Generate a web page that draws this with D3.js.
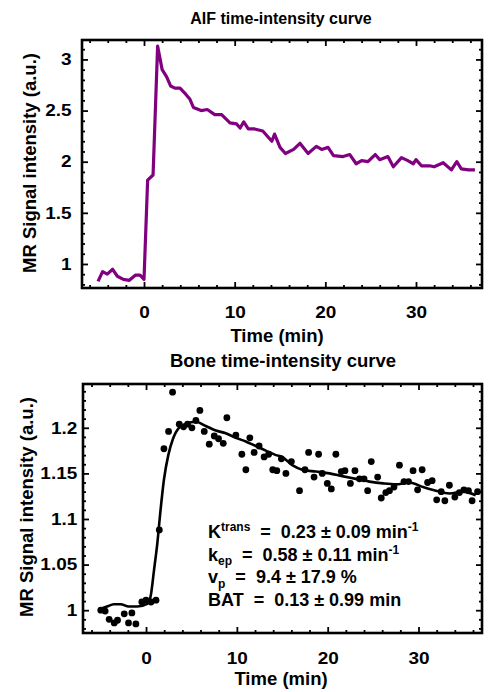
<!DOCTYPE html>
<html>
<head>
<meta charset="utf-8">
<script src="https://cdn.jsdelivr.net/npm/d3@7"></script>
<style>
body { margin: 0; background: #fff; }
svg { display: block; }
text { font-family: "Liberation Sans", Arial, Helvetica, sans-serif; font-weight: bold; fill: #000; }
</style>
</head>
<body>
<svg id="chart" width="490" height="692"></svg>
<script>
/* AIF curve */
var aifTime = [-5.07, -4.57, -4.05, -3.46, -2.94, -2.28, -1.62, -0.96, -0.44, 0, 0.4, 1.0, 1.5, 2.0, 2.5, 2.94, 3.4, 3.97, 4.6, 5.07,
	5.45, 6.3, 6.98, 7.8, 8.56, 9.48, 10.2, 10.6, 11.0, 11.5, 12.2, 13.1, 14.1, 14.4, 15.0, 15.6, 16.5, 17.2, 18.1, 19.0,
	19.6, 20.3, 20.9, 21.96, 22.7, 23.4, 24.0, 24.7, 25.5, 26.0, 26.9, 27.5, 28.4, 29.1, 29.7, 30.0, 30.6, 31.5, 32.0, 33.0,
	33.9, 34.5, 35.0, 35.8, 36.5];
var aifSignal = [0.83, 0.925, 0.90, 0.948, 0.88, 0.85, 0.84, 0.89, 0.89, 0.85, 1.82, 1.87, 3.13, 2.90, 2.83, 2.74, 2.72, 2.72, 2.66, 2.61,
	2.53, 2.50, 2.51, 2.46, 2.46, 2.38, 2.37, 2.33, 2.39, 2.32, 2.32, 2.30, 2.20, 2.27, 2.14, 2.08, 2.12, 2.18, 2.08, 2.15,
	2.12, 2.14, 2.06, 2.05, 2.07, 1.98, 2.01, 2.00, 2.07, 2.02, 2.05, 1.95, 2.04, 2.01, 1.98, 2.02, 1.96, 1.96, 1.95, 1.99,
	1.92, 2.00, 1.93, 1.92, 1.92];

/* bone samples (dots) */
var boneTime = [-4.98, -4.5, -4.06, -3.5, -3.14, -2.4, -1.93, -1.56, -1.12, -0.46, 0, 0.55, 1.1, 1.46, 1.97, 2.48, 2.92, 3.66, 4.13, 4.57,
	5.05, 5.49, 5.93, 6.41, 6.96, 7.51, 7.98, 8.5, 8.9, 9.89, 10.55, 10.99, 11.43, 11.9, 12.45, 13.0, 13.5, 13.95, 14.4, 14.9,
	15.4, 16.0, 16.9, 17.5, 17.9, 18.5, 19.0, 19.4, 19.96, 20.4, 20.9, 21.5, 21.9, 22.5, 23.0, 23.5, 24.0, 24.4, 24.8, 25.5,
	25.9, 26.4, 26.8, 27.3, 27.9, 28.4, 28.9, 29.4, 29.9, 30.4, 31.0, 31.5, 32.0, 32.5, 32.9, 33.4, 34.0, 34.5, 35.0, 35.5,
	35.9, 36.5];
var boneSignal = [1.000, 0.999, 0.990, 0.986, 0.989, 0.996, 0.986, 0.997, 0.985, 1.009, 1.011, 1.009, 1.011, 1.088, 1.177, 1.196, 1.239, 1.204, 1.201, 1.204,
	1.200, 1.208, 1.219, 1.196, 1.182, 1.191, 1.188, 1.183, 1.211, 1.192, 1.171, 1.154, 1.189, 1.173, 1.180, 1.168, 1.171, 1.154, 1.153, 1.166,
	1.150, 1.163, 1.131, 1.154, 1.173, 1.146, 1.171, 1.150, 1.139, 1.133, 1.171, 1.152, 1.153, 1.139, 1.153, 1.144, 1.144, 1.131, 1.163, 1.146,
	1.123, 1.129, 1.131, 1.135, 1.159, 1.141, 1.141, 1.153, 1.132, 1.154, 1.140, 1.142, 1.121, 1.130, 1.120, 1.137, 1.124, 1.129, 1.132, 1.131,
	1.120, 1.130];

/* model fit through the bone samples */
var fitTime = [-5.2, -4.3, -3.55, -2.8, -1.9, -0.97, 0.13, 0.5, 0.88, 1.24, 1.6, 1.97, 2.45, 2.97, 3.63, 4.37, 5.47, 6.57, 7.68, 8.78,
	9.88, 10.98, 12.08, 13.19, 14.3, 15.0, 16.1, 17.2, 18.7, 20.2, 21.6, 23.1, 24.6, 26.1, 27.5, 29.0, 30.5, 31.9, 33.4, 34.9, 36.3];
var fitSignal = [1.001, 1.004, 1.0066, 1.0066, 1.004, 1.004, 1.007, 1.015, 1.044, 1.073, 1.110, 1.143, 1.170, 1.188, 1.200, 1.204, 1.2066, 1.202, 1.197, 1.194,
	1.189, 1.185, 1.180, 1.175, 1.170, 1.168, 1.159, 1.154, 1.152, 1.150, 1.147, 1.144, 1.141, 1.139, 1.138, 1.140, 1.135, 1.131, 1.128, 1.130, 1.126];

var xTicks = [0, 10, 20, 30];
var aifYTicks = [1, 1.5, 2, 2.5, 3];
var boneYTicks = [1, 1.05, 1.1, 1.15, 1.2];

var params = [
	{ main: "K", sup: "trans", rest: "  =  0.23 \u00b1 0.09 min", tail: "-1" },
	{ main: "k", sub: "ep", rest: "  =  0.58 \u00b1 0.11 min", tail: "-1" },
	{ main: "v", sub: "p", rest: "  =  9.4 \u00b1 17.9 %" },
	{ main: "BAT", rest: "  =  0.13 \u00b1 0.99 min" }
];

var svg = d3.select("#chart");

/* one framed panel with inward ticks on all four sides */
function drawPanel(p) {
	var x = d3.scaleLinear().domain(p.xDomain).range([p.left, p.right]);
	var y = d3.scaleLinear().domain(p.yDomain).range([p.bottom, p.top]);
	var g = svg.append("g");

	var xMinor = d3.range(-6, 37, 2).filter(function(d) { return xTicks.indexOf(d) < 0; });
	var yMinor = p.yMinor.filter(function(d) { return p.yTicks.every(function(t) { return Math.abs(t - d) > 1e-6; }); });

	function ticks(axisFn, scale, vals, size, tx, ty, labels, pad) {
		var a = axisFn(scale).tickValues(vals).tickSizeInner(-size).tickSizeOuter(0).tickPadding(pad || 0);
		if (!labels) a.tickFormat("");
		else a.tickFormat(function(d) { return String(d); });
		var ax = g.append("g").attr("transform", "translate(" + tx + "," + ty + ")").call(a);
		ax.select(".domain").remove();
		ax.selectAll("line").attr("stroke", "#000").attr("stroke-width", 1.8);
		ax.selectAll("text").attr("font-size", 16.5).attr("font-family", null)
			.attr("transform", "scale(1.15,1)");
		return ax;
	}

	ticks(d3.axisBottom, x, xTicks, 6, 0, p.bottom, true, p.xPad);
	ticks(d3.axisBottom, x, xMinor, 3, 0, p.bottom);
	ticks(d3.axisTop, x, xTicks, 6, 0, p.top);
	ticks(d3.axisTop, x, xMinor, 3, 0, p.top);
	ticks(d3.axisLeft, y, p.yTicks, 6, p.left, 0, true, p.yPad);
	ticks(d3.axisLeft, y, yMinor, 3, p.left, 0);
	ticks(d3.axisRight, y, p.yTicks, 6, p.right, 0);
	ticks(d3.axisRight, y, yMinor, 3, p.right, 0);

	g.append("rect")
		.attr("x", p.left).attr("y", p.top)
		.attr("width", p.right - p.left).attr("height", p.bottom - p.top)
		.attr("fill", "none").attr("stroke", "#000").attr("stroke-width", 2.6);

	g.append("text").text(p.title)
		.attr("x", p.titleX).attr("y", p.titleY)
		.attr("text-anchor", "middle").attr("font-size", p.titleSize);

	g.append("text").text("Time (min)")
		.attr("x", p.xLabelX).attr("y", p.xLabelY)
		.attr("text-anchor", "middle").attr("font-size", 18.5);

	g.append("text").text("MR Signal intensity (a.u.)")
		.attr("transform", "translate(" + p.yLabelX + "," + p.yLabelY + ") rotate(-90)")
		.attr("text-anchor", "middle").attr("font-size", 18.5);

	return { g: g, x: x, y: y };
}

var aif = drawPanel({
	left: 82, right: 482, top: 40, bottom: 288,
	xDomain: [-6.84, 37.28], yDomain: [0.765, 3.19],
	yTicks: aifYTicks, yMinor: d3.range(0.8, 3.15, 0.1),
	xPad: 18, yPad: 9,
	title: "AIF time-intensity curve", titleX: 281, titleY: 24, titleSize: 16,
	xLabelX: 277, xLabelY: 342,
	yLabelX: 36, yLabelY: 163
});

aif.g.append("path")
	.datum(d3.range(aifTime.length))
	.attr("fill", "none")
	.attr("stroke", "#800080")
	.attr("stroke-width", 3.2)
	.attr("stroke-linejoin", "round")
	.attr("d", d3.line()
		.x(function(i) { return aif.x(aifTime[i]); })
		.y(function(i) { return aif.y(aifSignal[i]); }));

var bone = drawPanel({
	left: 83, right: 482, top: 384, bottom: 633,
	xDomain: [-6.94, 36.99], yDomain: [0.975, 1.248],
	yTicks: boneYTicks, yMinor: d3.range(0.98, 1.245, 0.01),
	xPad: 19, yPad: 5,
	title: "Bone time-intensity curve", titleX: 283, titleY: 367, titleSize: 18.5,
	xLabelX: 281, xLabelY: 685,
	yLabelX: 33, yLabelY: 507
});

bone.g.append("g").selectAll("circle")
	.data(d3.range(boneTime.length))
	.enter()
	.append("circle")
	.attr("cx", function(i) { return bone.x(boneTime[i]); })
	.attr("cy", function(i) { return bone.y(boneSignal[i]); })
	.attr("r", 3.4)
	.attr("fill", "#000");

bone.g.append("path")
	.datum(d3.range(fitTime.length))
	.attr("fill", "none")
	.attr("stroke", "#000")
	.attr("stroke-width", 2.6)
	.attr("d", d3.line()
		.curve(d3.curveMonotoneX)
		.x(function(i) { return bone.x(fitTime[i]); })
		.y(function(i) { return bone.y(fitSignal[i]); }));

/* fitted parameters */
var paramText = bone.g.append("g").selectAll("text")
	.data(params)
	.enter()
	.append("text")
	.attr("x", 208)
	.attr("y", function(d, i) { return 538 + i * 22.6; })
	.attr("font-size", 18)
	.style("white-space", "pre");

paramText.each(function(d) {
	var t = d3.select(this);
	t.append("tspan").text(d.main);
	var shift = 0;
	if (d.sup) { t.append("tspan").text(d.sup).attr("font-size", 12).attr("dy", -7); shift = -7; }
	if (d.sub) { t.append("tspan").text(d.sub).attr("font-size", 12).attr("dy", 4.5); shift = 4.5; }
	t.append("tspan").text(d.rest).attr("dy", -shift);
	if (d.tail) t.append("tspan").text(d.tail).attr("font-size", 12).attr("dy", -7);
});
</script>
</body>
</html>
